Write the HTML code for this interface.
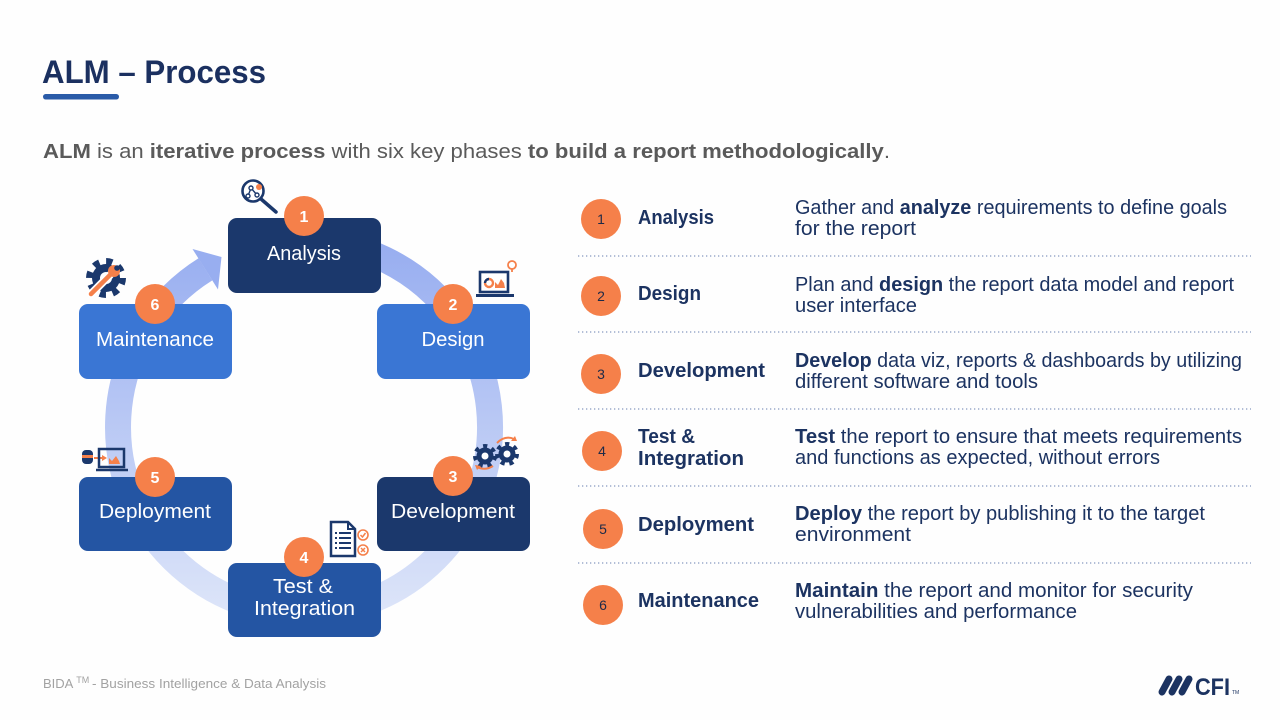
<!DOCTYPE html>
<html>
<head>
<meta charset="utf-8">
<style>
  html,body{margin:0;padding:0;background:#fefefe;}
  body{width:1280px;height:720px;overflow:hidden;position:relative;font-family:"Liberation Sans",sans-serif;}
  svg{position:absolute;left:0;top:0;}
  .bx{font-family:"Liberation Sans",sans-serif;font-size:20px;fill:#fff;}
  .num{font-family:"Liberation Sans",sans-serif;font-size:16px;font-weight:bold;fill:#fff;}
  .tn{font-family:"Liberation Sans",sans-serif;font-size:14px;fill:#1d2a48;}
  .lb{font-family:"Liberation Sans",sans-serif;font-size:20px;font-weight:bold;fill:#1c3361;}
  .ds{font-family:"Liberation Sans",sans-serif;font-size:20px;fill:#1c3361;}
  .ds tspan.b{font-weight:bold;}
</style>
</head>
<body>
<svg width="1280" height="720" viewBox="0 0 1280 720">
  <defs>
    <linearGradient id="rg" gradientUnits="userSpaceOnUse" x1="0" y1="240" x2="0" y2="615">
      <stop offset="0" stop-color="#97adf0"/>
      <stop offset="1" stop-color="#dde5f9"/>
    </linearGradient>
  </defs>

  <!-- Title -->
  <text x="42" y="83" font-family="Liberation Sans" font-weight="bold" font-size="32" fill="#1b3060" textLength="224" lengthAdjust="spacingAndGlyphs">ALM – Process</text>
  <rect x="43" y="94" width="76" height="5.5" rx="2.7" fill="#2a5ba8"/>

  <!-- Subtitle -->
  <text x="43" y="158" font-family="Liberation Sans" font-size="20" fill="#5a5a5a" textLength="847" lengthAdjust="spacingAndGlyphs"><tspan font-weight="bold">ALM</tspan> is an <tspan font-weight="bold">iterative process</tspan> with six key phases <tspan font-weight="bold">to build a report methodologically</tspan>.</text>

  <!-- Ring -->
  <path d="M304,241 A186,186 0 1 1 205.4,269.3" fill="none" stroke="url(#rg)" stroke-width="26"/>
  <polygon points="192.5,249 218,289.5 221.5,257" fill="#98aef0"/>

  <!-- Boxes -->
  <rect x="228" y="218" width="153" height="75" rx="9" fill="#1b386c"/>
  <rect x="377" y="304" width="153" height="75" rx="9" fill="#3a76d4"/>
  <rect x="79" y="304" width="153" height="75" rx="9" fill="#3a76d4"/>
  <rect x="79" y="477" width="153" height="74" rx="9" fill="#2455a3"/>
  <rect x="377" y="477" width="153" height="74" rx="9" fill="#1b386c"/>
  <rect x="228" y="563" width="153" height="74" rx="9" fill="#2455a3"/>

  <text class="bx" x="304" y="260" text-anchor="middle" textLength="74" lengthAdjust="spacingAndGlyphs">Analysis</text>
  <text class="bx" x="453" y="346" text-anchor="middle" textLength="63" lengthAdjust="spacingAndGlyphs">Design</text>
  <text class="bx" x="155" y="346" text-anchor="middle" textLength="118" lengthAdjust="spacingAndGlyphs">Maintenance</text>
  <text class="bx" x="155" y="518" text-anchor="middle" textLength="112" lengthAdjust="spacingAndGlyphs">Deployment</text>
  <text class="bx" x="453" y="518" text-anchor="middle" textLength="124" lengthAdjust="spacingAndGlyphs">Development</text>
  <text class="bx" x="303" y="593" text-anchor="middle" textLength="60" lengthAdjust="spacingAndGlyphs">Test &amp;</text>
  <text class="bx" x="304.5" y="615" text-anchor="middle" textLength="101" lengthAdjust="spacingAndGlyphs">Integration</text>

  <!-- Diagram number circles -->
  <g fill="#f5804a">
    <circle cx="304" cy="216" r="20"/>
    <circle cx="453" cy="304" r="20"/>
    <circle cx="155" cy="304" r="20"/>
    <circle cx="155" cy="477" r="20"/>
    <circle cx="453" cy="476" r="20"/>
    <circle cx="304" cy="557" r="20"/>
  </g>
  <text class="num" x="304" y="222" text-anchor="middle">1</text>
  <text class="num" x="453" y="310" text-anchor="middle">2</text>
  <text class="num" x="155" y="310" text-anchor="middle">6</text>
  <text class="num" x="155" y="483" text-anchor="middle">5</text>
  <text class="num" x="453" y="482" text-anchor="middle">3</text>
  <text class="num" x="304" y="563" text-anchor="middle">4</text>

  <!-- Icon: Analysis magnifier -->
  <g>
    <circle cx="253" cy="191" r="10.5" fill="#fff" stroke="#1b386c" stroke-width="2.6"/>
    <line x1="261" y1="199" x2="276" y2="212" stroke="#1b386c" stroke-width="3.5" stroke-linecap="round"/>
    <polyline points="248,196 251,188 257,195" fill="none" stroke="#1b386c" stroke-width="1.4"/>
    <circle cx="248" cy="196" r="2" fill="#fff" stroke="#1b386c" stroke-width="1.4"/>
    <circle cx="251" cy="188" r="2" fill="#fff" stroke="#1b386c" stroke-width="1.4"/>
    <circle cx="257" cy="195" r="2" fill="#fff" stroke="#1b386c" stroke-width="1.4"/>
    <circle cx="259" cy="187" r="3" fill="#f5804a"/>
  </g>

  <!-- Icon: Design laptop -->
  <g>
    <rect x="480" y="272" width="28" height="20" fill="#fff" stroke="#1b386c" stroke-width="2.6"/>
    <line x1="476" y1="295.5" x2="514" y2="295.5" stroke="#1b386c" stroke-width="3"/>
    <circle cx="489" cy="283" r="4" fill="none" stroke="#f5804a" stroke-width="2.4"/>
    <path d="M489,279 A4,4 0 0 0 485,283" fill="none" stroke="#1b386c" stroke-width="2.4"/>
    <polygon points="495,288 495,282 498,285 501,279 504,283 505,288" fill="#f5804a"/>
    <circle cx="512" cy="265" r="4" fill="#fff" stroke="#f5804a" stroke-width="1.8"/>
    <line x1="512" y1="269" x2="512" y2="272" stroke="#f5804a" stroke-width="1.8"/>
  </g>

  <!-- Icon: Maintenance gear + wrench -->
  <g>
    <circle cx="106" cy="278" r="16" fill="none" stroke="#1b386c" stroke-width="8" stroke-dasharray="6 6.566"/>
    <circle cx="106" cy="278" r="14" fill="#1b386c"/>
    <circle cx="106" cy="278" r="6" fill="#fff"/>
    <line x1="91" y1="294" x2="110" y2="275" stroke="#fff" stroke-width="8" stroke-linecap="round"/>
    <line x1="91" y1="294" x2="110" y2="275" stroke="#f5804a" stroke-width="4.5" stroke-linecap="round"/>
    <circle cx="114" cy="271" r="6" fill="#f5804a"/>
    <circle cx="117" cy="268" r="2.8" fill="#1b386c"/>
  </g>

  <!-- Icon: Development gears -->
  <g>
    <circle cx="485" cy="456" r="9.5" fill="none" stroke="#1b386c" stroke-width="5" stroke-dasharray="4 4.53"/>
    <circle cx="485" cy="456" r="8.5" fill="#1b386c"/>
    <circle cx="485" cy="456" r="3.5" fill="#fff"/>
    <circle cx="507" cy="454" r="9.5" fill="none" stroke="#1b386c" stroke-width="5" stroke-dasharray="4 4.53"/>
    <circle cx="507" cy="454" r="8.5" fill="#1b386c"/>
    <circle cx="507" cy="454" r="3.5" fill="#fff"/>
    <path d="M497,443 Q505,435 514,439" fill="none" stroke="#f5804a" stroke-width="2"/>
    <polygon points="517,441 511,441 515,436" fill="#f5804a"/>
    <path d="M493,466 Q485,471 477,467" fill="none" stroke="#f5804a" stroke-width="2"/>
    <polygon points="475,465 481,466 477,470" fill="#f5804a"/>
  </g>

  <!-- Icon: Test document -->
  <g>
    <path d="M331,522 H348 L355,529 V556 H331 Z" fill="#fff" stroke="#1b386c" stroke-width="2.5"/>
    <path d="M348,522 V529 H355" fill="none" stroke="#1b386c" stroke-width="2"/>
    <g stroke="#1b386c" stroke-width="2">
      <line x1="339" y1="533" x2="351" y2="533"/>
      <line x1="339" y1="538" x2="351" y2="538"/>
      <line x1="339" y1="543" x2="351" y2="543"/>
      <line x1="339" y1="548" x2="351" y2="548"/>
      <line x1="335" y1="533" x2="337" y2="533"/>
      <line x1="335" y1="538" x2="337" y2="538"/>
      <line x1="335" y1="543" x2="337" y2="543"/>
      <line x1="335" y1="548" x2="337" y2="548"/>
    </g>
    <circle cx="363" cy="535" r="5" fill="#fff" stroke="#f5804a" stroke-width="1.6"/>
    <polyline points="360.5,535 362.5,537 365.5,533" fill="none" stroke="#f5804a" stroke-width="1.5"/>
    <circle cx="363" cy="550" r="5" fill="#fff" stroke="#f5804a" stroke-width="1.6"/>
    <path d="M361,548 L365,552 M365,548 L361,552" stroke="#f5804a" stroke-width="1.5"/>
  </g>

  <!-- Icon: Deployment -->
  <g>
    <rect x="82" y="450" width="11" height="14" rx="4" fill="#1b386c"/>
    <rect x="82" y="455" width="11" height="3" fill="#f5804a"/>
    <line x1="94" y1="458" x2="104" y2="458" stroke="#f5804a" stroke-width="2"/>
    <polygon points="107,458 102,455 102,461" fill="#f5804a"/>
    <rect x="99" y="449" width="25" height="18" fill="none" stroke="#1b386c" stroke-width="2.5"/>
    <line x1="96" y1="470" x2="128" y2="470" stroke="#1b386c" stroke-width="2.5"/>
    <polygon points="109,464 109,458 112,461 116,456 119,461 120,464" fill="#f5804a"/>
  </g>

  <!-- Right table: number circles -->
  <g fill="#f5804a">
    <circle cx="601" cy="219" r="20"/>
    <circle cx="601" cy="296" r="20"/>
    <circle cx="601" cy="374" r="20"/>
    <circle cx="602" cy="451" r="20"/>
    <circle cx="603" cy="529" r="20"/>
    <circle cx="603" cy="605" r="20"/>
  </g>
  <text class="tn" x="601" y="224" text-anchor="middle">1</text>
  <text class="tn" x="601" y="301" text-anchor="middle">2</text>
  <text class="tn" x="601" y="379" text-anchor="middle">3</text>
  <text class="tn" x="602" y="456" text-anchor="middle">4</text>
  <text class="tn" x="603" y="534" text-anchor="middle">5</text>
  <text class="tn" x="603" y="610" text-anchor="middle">6</text>

  <!-- Labels -->
  <text class="lb" x="638" y="224" textLength="76" lengthAdjust="spacingAndGlyphs">Analysis</text>
  <text class="lb" x="638" y="300" textLength="63" lengthAdjust="spacingAndGlyphs">Design</text>
  <text class="lb" x="638" y="377" textLength="127" lengthAdjust="spacingAndGlyphs">Development</text>
  <text class="lb" x="638" y="443" textLength="57" lengthAdjust="spacingAndGlyphs">Test &amp;</text>
  <text class="lb" x="638" y="465" textLength="106" lengthAdjust="spacingAndGlyphs">Integration</text>
  <text class="lb" x="638" y="531" textLength="116" lengthAdjust="spacingAndGlyphs">Deployment</text>
  <text class="lb" x="638" y="607" textLength="121" lengthAdjust="spacingAndGlyphs">Maintenance</text>

  <!-- Descriptions -->
  <text class="ds" x="795" y="214" textLength="432" lengthAdjust="spacingAndGlyphs">Gather and <tspan class="b">analyze</tspan> requirements to define goals</text>
  <text class="ds" x="795" y="235" textLength="121" lengthAdjust="spacingAndGlyphs">for the report</text>

  <text class="ds" x="795" y="291" textLength="439" lengthAdjust="spacingAndGlyphs">Plan and <tspan class="b">design</tspan> the report data model and report</text>
  <text class="ds" x="795" y="312" textLength="122" lengthAdjust="spacingAndGlyphs">user interface</text>

  <text class="ds" x="795" y="367" textLength="447" lengthAdjust="spacingAndGlyphs"><tspan class="b">Develop</tspan> data viz, reports &amp; dashboards by utilizing</text>
  <text class="ds" x="795" y="388" textLength="243" lengthAdjust="spacingAndGlyphs">different software and tools</text>

  <text class="ds" x="795" y="443" textLength="447" lengthAdjust="spacingAndGlyphs"><tspan class="b">Test</tspan> the report to ensure that meets requirements</text>
  <text class="ds" x="795" y="464" textLength="365" lengthAdjust="spacingAndGlyphs">and functions as expected, without errors</text>

  <text class="ds" x="795" y="520" textLength="410" lengthAdjust="spacingAndGlyphs"><tspan class="b">Deploy</tspan> the report by publishing it to the target</text>
  <text class="ds" x="795" y="541" textLength="116" lengthAdjust="spacingAndGlyphs">environment</text>

  <text class="ds" x="795" y="597" textLength="398" lengthAdjust="spacingAndGlyphs"><tspan class="b">Maintain</tspan> the report and monitor for security</text>
  <text class="ds" x="795" y="618" textLength="282" lengthAdjust="spacingAndGlyphs">vulnerabilities and performance</text>

  <!-- Dotted separators -->
  <g stroke="#8598c0" stroke-width="1.3" stroke-dasharray="1.3 2.7">
    <line x1="578" y1="256" x2="1251" y2="256"/>
    <line x1="578" y1="332" x2="1251" y2="332"/>
    <line x1="578" y1="409" x2="1251" y2="409"/>
    <line x1="578" y1="486" x2="1251" y2="486"/>
    <line x1="578" y1="563" x2="1251" y2="563"/>
  </g>

  <!-- Footer -->
  <text x="43" y="688" font-family="Liberation Sans" font-size="13" fill="#a2a2a2">BIDA <tspan font-size="9" dy="-5">TM</tspan></text>
  <text x="92" y="688" font-family="Liberation Sans" font-size="13" fill="#a2a2a2" textLength="234" lengthAdjust="spacingAndGlyphs">- Business  Intelligence  &amp; Data Analysis</text>

  <!-- CFI logo -->
  <g stroke="#1c3361" stroke-width="7" stroke-linecap="round">
    <line x1="1162" y1="692" x2="1169" y2="679"/>
    <line x1="1172" y1="692" x2="1179" y2="679"/>
    <line x1="1182" y1="692" x2="1189" y2="679"/>
  </g>
  <text x="1195" y="695" font-family="Liberation Sans" font-weight="bold" font-size="24" fill="#1c3361" textLength="35" lengthAdjust="spacingAndGlyphs">CFI</text>
  <text x="1232" y="694" font-family="Liberation Sans" font-size="5" fill="#1c3361">TM</text>
</svg>
</body>
</html>
